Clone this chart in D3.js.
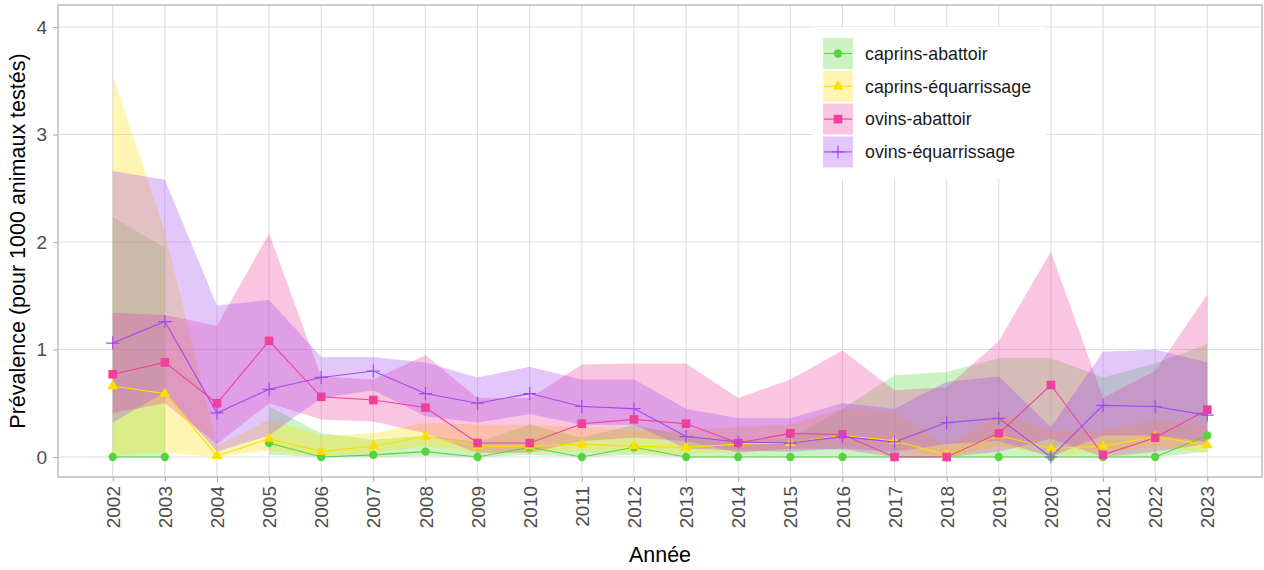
<!DOCTYPE html>
<html>
<head>
<meta charset="utf-8">
<script src="https://cdn.jsdelivr.net/npm/d3@7"></script>
<style>
  body { margin: 0; background: #fff; }
  svg { font-family: "Liberation Sans", Arial, sans-serif; display: block; }
</style>
</head>
<body>
<div id="container"></div>
<script>
// années
const years = [2002, 2003, 2004, 2005, 2006, 2007, 2008, 2009, 2010, 2011, 2012,
               2013, 2014, 2015, 2016, 2017, 2018, 2019, 2020, 2021, 2022, 2023];

const seriesNames = ['caprins-abattoir', 'caprins-équarrissage', 'ovins-abattoir', 'ovins-équarrissage'];
const yTicks = [0, 1, 2, 3, 4];

// prévalence + IC 95% (pour 1000 animaux testés)
const caprinsAbattoir     = [0, 0, null, 0.13, 0, 0.02, 0.05, 0, 0.09, 0, 0.09, 0, 0, 0, 0, 0, 0, 0, 0, 0, 0, 0.2];
const caprinsAbattoirLow  = [0, 0, null, 0.02, 0, 0, 0.01, 0, 0.02, 0, 0.02, 0, 0, 0, 0, 0, 0, 0, 0, 0, 0, 0.05];
const caprinsAbattoirHigh = [2.23, 1.95, null, 0.47, 0.22, 0.16, 0.2, 0.14, 0.3, 0.18, 0.3, 0.2, 0.16, 0.17, 0.45, 0.76, 0.79, 0.92, 0.92, 0.74, 0.87, 1.05];

const caprinsEquarr     = [0.66, 0.59, 0.01, 0.17, 0.05, 0.1, 0.19, 0.1, 0.1, 0.12, 0.1, 0.09, 0.12, 0.13, 0.2, 0.15, 0.02, 0.2, 0.08, 0.1, 0.19, 0.11];
const caprinsEquarrLow  = [0.02, 0.04, 0, 0.06, 0.01, 0.04, 0.1, 0.04, 0.04, 0.05, 0.04, 0.03, 0.05, 0.06, 0.1, 0.07, 0, 0.1, 0.02, 0.04, 0.1, 0.04];
const caprinsEquarrHigh = [3.55, 2.1, 0.1, 0.35, 0.2, 0.22, 0.32, 0.3, 0.3, 0.28, 0.25, 0.25, 0.28, 0.3, 0.45, 0.42, 0.1, 0.4, 0.25, 0.25, 0.35, 0.28];

const ovinsAbattoir     = [0.77, 0.88, 0.5, 1.08, 0.56, 0.53, 0.46, 0.13, 0.13, 0.31, 0.35, 0.31, 0.13, 0.22, 0.21, 0, 0, 0.22, 0.67, 0.02, 0.18, 0.44];
const ovinsAbattoirLow  = [0.41, 0.5, 0.12, 0.5, 0.35, 0.33, 0.22, 0.04, 0.04, 0.15, 0.18, 0.15, 0.04, 0.08, 0.07, 0, 0, 0.05, 0.17, 0, 0.05, 0.12];
const ovinsAbattoirHigh = [1.34, 1.32, 1.22, 2.08, 0.75, 0.72, 0.95, 0.55, 0.55, 0.86, 0.87, 0.87, 0.55, 0.72, 0.99, 0.62, 0.65, 1.08, 1.91, 0.55, 0.8, 1.51];

const ovinsEquarr     = [1.06, 1.26, 0.41, 0.63, 0.74, 0.8, 0.59, 0.5, 0.59, 0.47, 0.45, 0.19, 0.14, 0.13, 0.19, 0.14, 0.32, 0.36, 0, 0.48, 0.47, 0.39];
const ovinsEquarrLow  = [0.32, 0.6, 0.05, 0.2, 0.55, 0.62, 0.38, 0.32, 0.4, 0.3, 0.3, 0.08, 0.06, 0.05, 0.08, 0.05, 0.12, 0.15, 0, 0.2, 0.2, 0.14];
const ovinsEquarrHigh = [2.66, 2.58, 1.41, 1.46, 0.93, 0.93, 0.88, 0.74, 0.84, 0.72, 0.72, 0.45, 0.36, 0.36, 0.5, 0.45, 0.7, 0.75, 0.28, 0.98, 1.0, 0.88];

const colors = ['#55d43f', '#ffdd00', '#f0409a', '#a347f0'];
const shapes = ['circle', 'triangle', 'square', 'plus'];

const vals = [caprinsAbattoir, caprinsEquarr, ovinsAbattoir, ovinsEquarr];
const lows = [caprinsAbattoirLow, caprinsEquarrLow, ovinsAbattoirLow, ovinsEquarrLow];
const highs = [caprinsAbattoirHigh, caprinsEquarrHigh, ovinsAbattoirHigh, ovinsEquarrHigh];

const series = seriesNames.map((name, i) => ({
  name: name,
  color: colors[i],
  shape: shapes[i],
  points: years.map((yr, j) => ({ year: yr, v: vals[i][j], lo: lows[i][j], hi: highs[i][j] }))
}));

const w = 1264;
const h = 570;
const panel = { left: 58, right: 1262, top: 5, bottom: 477 };

const svg = d3.select('#container')
  .append('svg')
  .attr('width', w)
  .attr('height', h);

svg.append('rect').attr('width', w).attr('height', h).attr('fill', '#fff');

// x continu, expansion 5%
const xScale = d3.scaleLinear()
  .domain([2002 - 1.05, 2023 + 1.05])
  .range([panel.left, panel.right]);

const yScale = d3.scaleLinear()
  .domain([-0.186, 4.205])
  .range([panel.bottom, panel.top]);

// grille
const grid = svg.append('g');
grid.selectAll('.gx').data(years).join('line')
  .attr('x1', d => xScale(d)).attr('x2', d => xScale(d))
  .attr('y1', panel.top).attr('y2', panel.bottom)
  .attr('stroke', '#dedede').attr('stroke-width', 1.1);
grid.selectAll('.gy').data(yTicks).join('line')
  .attr('x1', panel.left).attr('x2', panel.right)
  .attr('y1', d => yScale(d)).attr('y2', d => yScale(d))
  .attr('stroke', '#dedede').attr('stroke-width', 1.1);

// rubans IC
const area = d3.area()
  .defined(d => d.lo != null && d.hi != null)
  .x(d => xScale(d.year))
  .y0(d => yScale(d.lo))
  .y1(d => yScale(d.hi));

svg.append('g').selectAll('path').data(series).join('path')
  .attr('d', d => area(d.points))
  .attr('fill', d => d.color)
  .attr('fill-opacity', 0.3);

// lignes
const line = d3.line()
  .defined(d => d.v != null)
  .x(d => xScale(d.year))
  .y(d => yScale(d.v));

svg.append('g').selectAll('path').data(series).join('path')
  .attr('d', d => line(d.points))
  .attr('fill', 'none')
  .attr('stroke', d => d.color)
  .attr('stroke-width', 1.1);

// symboles
const drawShape = (sel, shape, color) => {
  if (shape === 'plus') {
    sel.append('path').attr('d', 'M-6.5,0H6.5M0,-6.5V6.5')
      .attr('stroke', color).attr('stroke-width', 1.2).attr('fill', 'none');
  } else {
    const type = shape === 'circle' ? d3.symbolCircle : shape === 'triangle' ? d3.symbolTriangle : d3.symbolSquare;
    const size = shape === 'circle' ? 54 : shape === 'triangle' ? 50 : 74;
    sel.append('path').attr('d', d3.symbol().type(type).size(size)()).attr('fill', color);
  }
};

series.forEach(s => {
  const g = svg.append('g');
  s.points.filter(p => p.v != null).forEach(p => {
    const pg = g.append('g').attr('transform', `translate(${xScale(p.year)},${yScale(p.v)})`);
    drawShape(pg, s.shape, s.color);
  });
});

// cadre du panneau
svg.append('rect')
  .attr('x', panel.left).attr('y', panel.top)
  .attr('width', panel.right - panel.left).attr('height', panel.bottom - panel.top)
  .attr('fill', 'none').attr('stroke', '#b3b3b3').attr('stroke-width', 1.3);

// axes
const xAxis = d3.axisBottom(xScale).tickValues(years).tickFormat(d3.format('d')).tickSize(5).tickPadding(4);
const gx = svg.append('g')
  .attr('transform', 'translate(0,' + panel.bottom + ')')
  .call(xAxis);
gx.select('.domain').remove();
gx.selectAll('.tick line').attr('stroke', '#b3b3b3').attr('stroke-width', 1.1);
gx.selectAll('.tick text')
  .attr('font-size', 19)
  .attr('fill', '#4d4d4d')
  .attr('transform', 'rotate(-90)')
  .attr('text-anchor', 'end')
  .attr('x', -9)
  .attr('y', 0)
  .attr('dy', '0.35em');

const yAxis = d3.axisLeft(yScale).tickValues(yTicks).tickFormat(d3.format('d')).tickSize(5).tickPadding(6);
const gy = svg.append('g')
  .attr('transform', 'translate(' + panel.left + ',0)')
  .call(yAxis);
gy.select('.domain').remove();
gy.selectAll('.tick line').attr('stroke', '#b3b3b3').attr('stroke-width', 1.1);
gy.selectAll('.tick text').attr('font-size', 19).attr('fill', '#4d4d4d');

// titres
svg.append('text')
  .attr('x', (panel.left + panel.right) / 2)
  .attr('y', 562)
  .attr('text-anchor', 'middle')
  .attr('font-size', 21.5)
  .attr('fill', '#000')
  .text('Année');

svg.append('text')
  .attr('transform', `translate(25,${(panel.top + panel.bottom) / 2}) rotate(-90)`)
  .attr('text-anchor', 'middle')
  .attr('font-size', 21.5)
  .attr('fill', '#000')
  .text('Prévalence (pour 1000 animaux testés)');

// légende
const legend = svg.append('g').attr('transform', 'translate(812,27)');
legend.append('rect').attr('width', 234).attr('height', 152).attr('fill', '#fff');
series.forEach((s, i) => {
  const row = legend.append('g').attr('transform', `translate(11,${11 + i * 32.8})`);
  row.append('rect').attr('width', 30).attr('height', 31).attr('fill', s.color).attr('fill-opacity', 0.3);
  row.append('line').attr('x1', 1).attr('x2', 29).attr('y1', 15.5).attr('y2', 15.5)
    .attr('stroke', s.color).attr('stroke-width', 1.1);
  drawShape(row.append('g').attr('transform', 'translate(15,15.5)'), s.shape, s.color);
  row.append('text')
    .attr('x', 42).attr('y', 15.5).attr('dy', '0.35em')
    .attr('font-size', 17.8).attr('fill', '#1a1a1a')
    .text(s.name);
});
</script>
</body>
</html>
